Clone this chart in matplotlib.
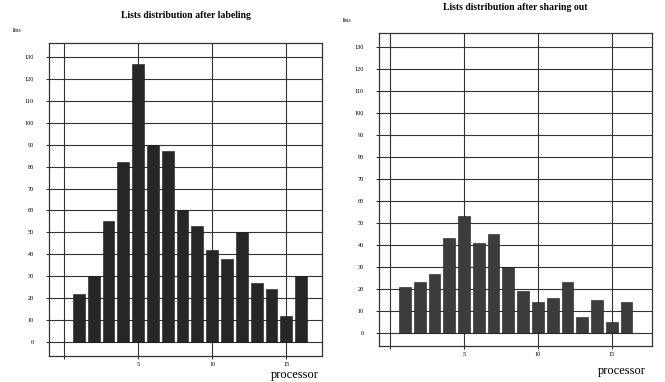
import numpy as np
import matplotlib
matplotlib.use("Agg")
import matplotlib.pyplot as plt

# processors 1..16
processors = list(range(1, 17))
after_labeling = [22, 30, 55, 82, 127, 90, 87, 60, 53, 42, 38, 50, 27, 24, 12, 30]
after_sharing = [21, 23, 27, 43, 53, 41, 45, 30, 19, 14, 16, 23, 7, 15, 5, 14]
titles = ["Lists distribution after labeling", "Lists distribution after sharing out"]

plt.rcParams['font.family'] = ['Liberation Serif', 'DejaVu Serif']

fig = plt.figure(figsize=(6.65, 3.82), dpi=100)

def panel(rect, values, title, color, xlim, ylim, title_y, lists_xy, proc_xy):
    ax = fig.add_axes(rect)
    ax.bar(processors, values, width=0.8, color=color, edgecolor='#1a1a1a', linewidth=0.4, zorder=3)
    ax.set_xlim(*xlim)
    ax.set_ylim(*ylim)
    ax.set_xticks([0, 5, 10, 15])
    ax.set_xticklabels(['', '5', '10', '15'], fontsize=4.5)
    ax.set_yticks(np.arange(0, 131, 10))
    ax.set_yticklabels([str(v) for v in range(0, 131, 10)], fontsize=4.5)
    ax.grid(True, color='#333333', linewidth=0.8, zorder=0)
    ax.tick_params(axis='x', length=2, width=0.6, pad=2)
    ax.tick_params(axis='y', length=2, width=0.6, pad=9)
    for s in ax.spines.values():
        s.set_linewidth(0.9)
        s.set_color('#333333')
    cx = rect[0] + rect[2] / 2
    fig.text(cx, title_y, title, ha='center', va='center', fontsize=7, fontweight='bold')
    fig.text(lists_xy[0], lists_xy[1], 'lists', fontsize=4, ha='left', va='center')
    fig.text(proc_xy[0], proc_xy[1], 'processor', fontsize=9, ha='center', va='center')
    return ax

panel([0.074, 0.068, 0.410, 0.820], after_labeling, titles[0], '#262626',
      (-1.0, 17.4), (-6.4, 136.5), 1 - 15 / 382, (13 / 665, 1 - 31 / 382), (295 / 665, 1 - 375 / 382))
panel([0.570, 0.094, 0.410, 0.820], after_sharing, titles[1], '#3c3c3c',
      (-0.75, 17.7), (-6.0, 136.4), 1 - 7 / 382, (343 / 665, 1 - 20 / 382), (622 / 665, 1 - 371 / 382))

fig.savefig("out.png", dpi=100)
